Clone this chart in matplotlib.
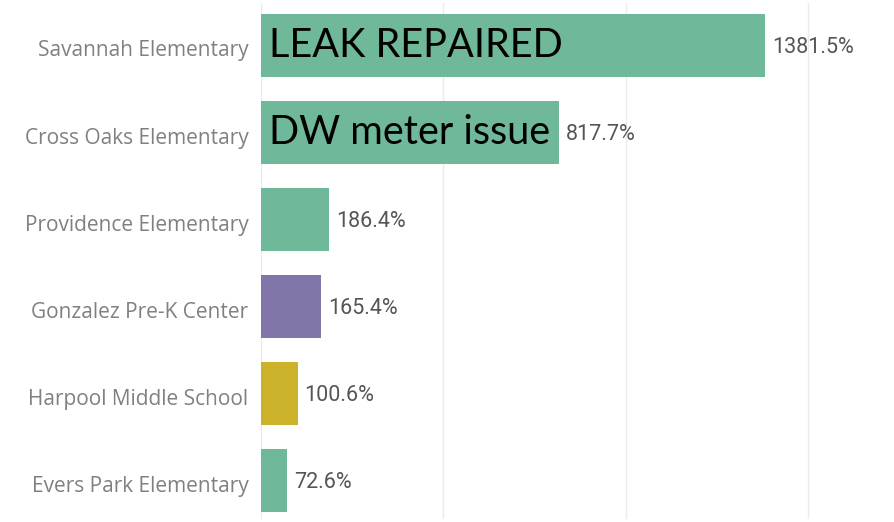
import matplotlib.pyplot as plt
import matplotlib.transforms as mtransforms

schools = ["Savannah Elementary", "Cross Oaks Elementary", "Providence Elementary",
           "Gonzalez Pre-K Center", "Harpool Middle School", "Evers Park Elementary"]
pct = [1381.5, 817.7, 186.4, 165.4, 100.6, 72.6]
colors = ["#6fb899", "#6fb899", "#6fb899", "#8175aa", "#ccb22b", "#6fb899"]
notes = {0: "LEAK REPAIRED", 1: "DW meter issue"}

W, H = 895, 522
fig = plt.figure(figsize=(W / 100, H / 100), dpi=100)
ax = fig.add_axes([261 / W, 3 / H, (W - 261) / W, 516 / H])

ypos = list(range(len(schools)))
ax.barh(ypos, pct, height=0.724, color=colors, edgecolor="none", zorder=2)
ax.set_xlim(0, 1738)
ax.set_ylim(5.4425, -0.4885)

for x in [0, 500, 1000, 1500]:
    ax.axvline(x, color="#ebebeb", lw=1, zorder=1)

# value labels at bar ends
for y, v in zip(ypos, pct):
    ax.annotate(f"{v}%", (v, y), xytext=(5, -1.5), textcoords="offset points",
                ha="left", va="center", fontsize=15.5, color="#555555",
                family="Roboto")
# notes written inside the two biggest bars
for y, txt in notes.items():
    ax.annotate(txt, (0, y), xytext=(6, 0), textcoords="offset points",
                ha="left", va="center", fontsize=28.5, color="black",
                family="Lato")

ax.set_yticks(ypos)
ax.set_yticklabels(schools, fontsize=15, color="#808080", family="Open Sans")
ax.tick_params(axis="y", length=0, pad=9)
shift = mtransforms.ScaledTranslation(0, -3 / 100, fig.dpi_scale_trans)
for lab in ax.get_yticklabels():
    lab.set_transform(lab.get_transform() + shift)
ax.set_xticks([])
for s in ax.spines.values():
    s.set_visible(False)

fig.savefig("out.png", dpi=100)
